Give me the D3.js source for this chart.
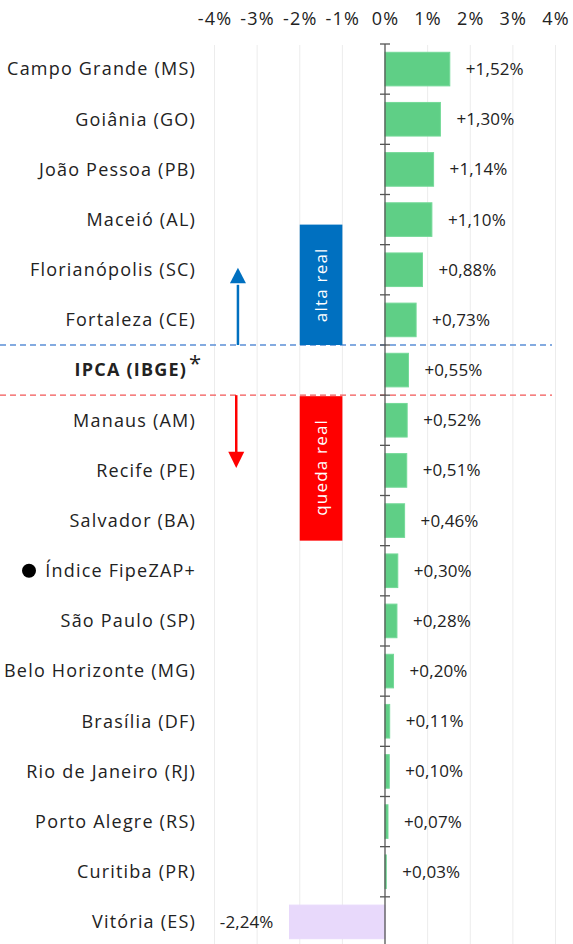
<!DOCTYPE html>
<html lang="pt">
<head>
<meta charset="UTF-8">
<script src="https://d3js.org/d3.v7.min.js"></script>
<style>
body { margin: 0; background: #fff; font-family: "Open Sans", Lato, sans-serif; }
.grid line { stroke: #ececec; stroke-width: 1px; }
.axis-top text { font-size: 18px; fill: #222; letter-spacing: 1.2px; font-family: "Open Sans", sans-serif; }
.cat { font-size: 18px; fill: #222; letter-spacing: 1.2px; }
.val { font-size: 17px; fill: #222; letter-spacing: 0.1px; }
</style>
</head>
<body>
<div id="chart"></div>
<script>
// data
var categories = ["Campo Grande (MS)", "Goiânia (GO)", "João Pessoa (PB)", "Maceió (AL)",
  "Florianópolis (SC)", "Fortaleza (CE)", "IPCA (IBGE)", "Manaus (AM)", "Recife (PE)",
  "Salvador (BA)", "Índice FipeZAP+", "São Paulo (SP)", "Belo Horizonte (MG)", "Brasília (DF)",
  "Rio de Janeiro (RJ)", "Porto Alegre (RS)", "Curitiba (PR)", "Vitória (ES)"];
var values = [1.52, 1.30, 1.14, 1.10, 0.88, 0.73, 0.55, 0.52, 0.51, 0.46, 0.30, 0.28, 0.20, 0.11, 0.10, 0.07, 0.03, -2.24];
var tickValues = [-4, -3, -2, -1, 0, 1, 2, 3, 4];

var width = 573, height = 944;

var svg = d3.select("#chart").append("svg")
  .attr("width", width)
  .attr("height", height);

var x = d3.scaleLinear().domain([-4, 4]).range([214.5, 555.5]);
var y = d3.scaleBand().domain(categories).range([44, 947]).paddingInner(0.33).paddingOuter(0.165);
var step = y.step();
var fmt = function(v) { return (v > 0 ? "+" : "") + v.toFixed(2).replace(".", ",") + "%"; };
var bound = function(i) { return 44 + i * step; };

// grid
svg.append("g").attr("class", "grid")
  .selectAll("line").data(tickValues.filter(function(d) { return d !== 0; }))
  .join("line")
  .attr("x1", function(d) { return x(d); }).attr("x2", function(d) { return x(d); })
  .attr("y1", 45).attr("y2", height);

// top axis labels
svg.append("g").attr("class", "axis-top")
  .attr("transform", "translate(0,25)")
  .call(d3.axisTop(x).tickValues(tickValues).tickSize(0).tickPadding(0)
    .tickFormat(function(d) { return d + "%"; }))
  .call(function(g) { g.select(".domain").remove(); });

// dashed reference lines
svg.append("line").attr("x1", 0).attr("x2", 552).attr("y1", bound(6)).attr("y2", bound(6))
  .attr("stroke", "#5b8fd6").attr("stroke-width", 1.3).attr("stroke-dasharray", "6,4");
svg.append("line").attr("x1", 0).attr("x2", 552).attr("y1", bound(7)).attr("y2", bound(7))
  .attr("stroke", "#f25757").attr("stroke-width", 1.3).attr("stroke-dasharray", "6,4");

// alta / queda boxes
svg.append("rect").attr("x", x(-2)).attr("width", x(-1) - x(-2))
  .attr("y", bound(6) - 2.4 * step).attr("height", 2.4 * step).attr("fill", "#0070c0");
svg.append("text")
  .attr("transform", "translate(" + ((x(-2) + x(-1)) / 2 + 6) + "," + (bound(6) - 1.2 * step) + ") rotate(-90)")
  .attr("text-anchor", "middle").attr("fill", "#fff")
  .style("font-size", "17px").style("letter-spacing", "1.2px").text("alta real");
svg.append("rect").attr("x", x(-2)).attr("width", x(-1) - x(-2))
  .attr("y", bound(7) + 1).attr("height", 2.88 * step).attr("fill", "#ff0000");
svg.append("text")
  .attr("transform", "translate(" + ((x(-2) + x(-1)) / 2 + 6) + "," + (bound(7) + 1.44 * step) + ") rotate(-90)")
  .attr("text-anchor", "middle").attr("fill", "#fff")
  .style("font-size", "17px").style("letter-spacing", "1.2px").text("queda real");

// arrows
var ax = x(-3.45);
svg.append("line").attr("x1", ax).attr("x2", ax).attr("y1", bound(6)).attr("y2", bound(6) - 1.2 * step)
  .attr("stroke", "#0070c0").attr("stroke-width", 2.5);
svg.append("path")
  .attr("d", "M" + (ax - 8) + "," + (bound(6) - 1.23 * step) + "L" + ax + "," + (bound(6) - 1.54 * step) + "L" + (ax + 8) + "," + (bound(6) - 1.23 * step) + "Z")
  .attr("fill", "#0070c0");
var ax2 = x(-3.49);
svg.append("line").attr("x1", ax2).attr("x2", ax2).attr("y1", bound(7)).attr("y2", bound(7) + 1.15 * step)
  .attr("stroke", "#ff0000").attr("stroke-width", 2.5);
svg.append("path")
  .attr("d", "M" + (ax2 - 8) + "," + (bound(7) + 1.13 * step) + "L" + ax2 + "," + (bound(7) + 1.45 * step) + "L" + (ax2 + 8) + "," + (bound(7) + 1.13 * step) + "Z")
  .attr("fill", "#ff0000");

// bars
svg.append("g").selectAll("rect").data(values).join("rect")
  .attr("x", function(d) { return x(Math.min(0, d)); })
  .attr("width", function(d) { return Math.abs(x(d) - x(0)); })
  .attr("y", function(d, i) { return y(categories[i]); })
  .attr("height", y.bandwidth())
  .attr("fill", function(d) { return d < 0 ? "#e8d9fb" : "#5fcf86"; })
  .attr("stroke", function(d) { return d < 0 ? "#e8d9fb" : "#74d998"; })
  .attr("stroke-width", 1);

// zero axis with band ticks
svg.append("line").attr("x1", x(0)).attr("x2", x(0)).attr("y1", 44).attr("y2", height)
  .attr("stroke", "#555").attr("stroke-width", 1.3);
svg.append("g").selectAll("line").data(d3.range(0, categories.length))
  .join("line")
  .attr("x1", x(0) - 5).attr("x2", x(0) + 5)
  .attr("y1", function(i) { return bound(i); }).attr("y2", function(i) { return bound(i); })
  .attr("stroke", "#555").attr("stroke-width", 1.3);

// value labels
svg.append("g").selectAll("text").data(values).join("text")
  .attr("class", "val")
  .attr("x", function(d) { return d < 0 ? x(d) - 16 : x(d) + 16; })
  .attr("y", function(d, i) { return y(categories[i]) + y.bandwidth() / 2; })
  .attr("dy", "0.35em")
  .attr("text-anchor", function(d) { return d < 0 ? "end" : "start"; })
  .text(fmt);

// category labels
svg.append("g").selectAll("text").data(categories).join("text")
  .attr("class", "cat")
  .attr("x", function(d) { return d === "IPCA (IBGE)" ? 187 : 196; })
  .attr("y", function(d) { return y(d) + y.bandwidth() / 2; })
  .attr("dy", "0.35em")
  .attr("text-anchor", "end")
  .style("font-weight", function(d) { return d === "IPCA (IBGE)" ? "bold" : null; })
  .style("letter-spacing", function(d) { return d === "IPCA (IBGE)" ? "1.2px" : null; })
  .text(function(d) { return d; });

// asterisk and marker
svg.append("text").attr("x", 189).attr("y", y("IPCA (IBGE)") + 18)
  .style("font-size", "22px").attr("fill", "#222").text("*");
svg.append("circle").attr("cx", 29).attr("cy", y("Índice FipeZAP+") + y.bandwidth() / 2)
  .attr("r", 7).attr("fill", "#000");
</script>
</body>
</html>
